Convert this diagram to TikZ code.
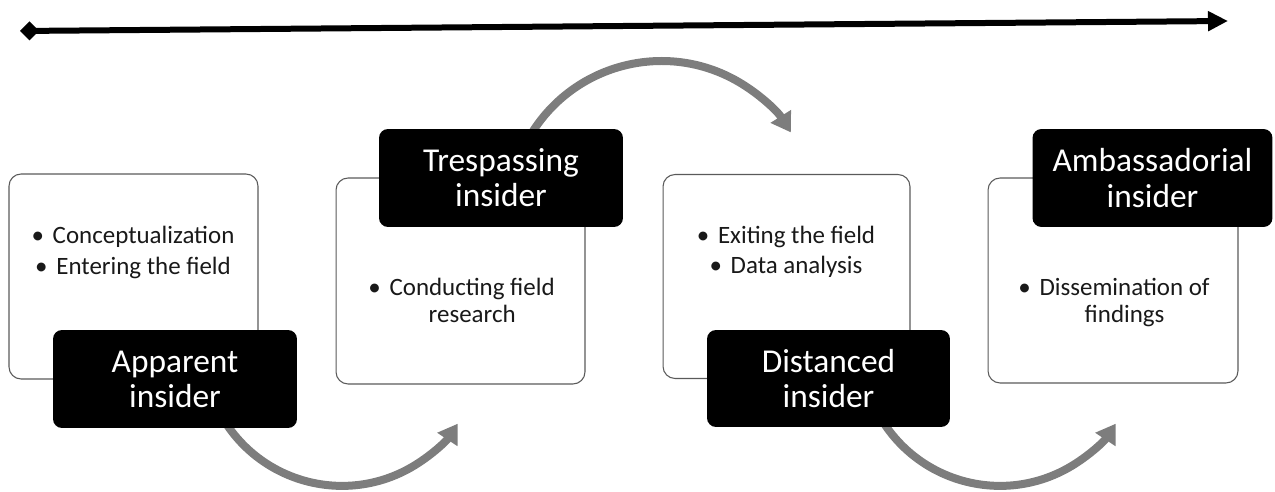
\documentclass[tikz,border=0pt]{standalone}
\usepackage{fontspec}
\setmainfont{Carlito}
\usetikzlibrary{arrows.meta}
\definecolor{flowgray}{RGB}{125,125,125}
\definecolor{boxline}{RGB}{90,90,90}
\definecolor{txt}{RGB}{25,25,25}
\newcommand{\bul}{\textbullet\hspace{5pt}}
\begin{document}
\begin{tikzpicture}[x=0.02cm,y=-0.02cm,
  wbox/.style={draw=boxline, line width=0.6pt, rounded corners=0.24cm, fill=white, inner sep=0pt},
  bbox/.style={fill=black, rounded corners=0.18cm, text=white, align=center, inner sep=0pt,
    font=\fontsize{19}{20}\selectfont},
  btext/.style={text=txt, align=center, inner sep=0pt},
  flow/.style={draw=flowgray, line width=0.16cm, -{Triangle[length=0.38cm,width=0.46cm]}},
  timeline/.style={draw=black, line width=0.12cm,
    {Diamond[length=0.38cm,width=0.38cm]}-{Triangle[length=0.4cm,width=0.38cm]}}
]
\path[use as bounding box] (0,0) rectangle (1275,492);

% timeline arrow
\coordinate (tl) at (20,31);
\coordinate (tr) at (1228,21);
\draw[timeline] (tl) -- (tr);

% arc centres
\coordinate (c1) at (342,347);
\coordinate (c2) at (661.5,213.9);
\coordinate (c3) at (1000,347);

% curved flow arrows (drawn first, boxes cover their starts)
\draw[flow] ([shift={(210:2.778cm)}]c1) arc[start angle=210, end angle=326.5, radius=2.778cm];
\draw[flow] ([shift={(150:3.058cm)}]c2) arc[start angle=150, end angle=32.2, radius=3.058cm];
\draw[flow] ([shift={(210:2.778cm)}]c3) arc[start angle=210, end angle=326.5, radius=2.778cm];

% white boxes
\node[wbox, minimum width=4.98cm, minimum height=4.1cm] (w1) at (133.5,276.5) {};
\node[wbox, minimum width=4.98cm, minimum height=4.12cm] (w2) at (460.5,281) {};
\node[wbox, minimum width=4.94cm, minimum height=4.08cm] (w3) at (786.5,276.5) {};
\node[wbox, minimum width=5.0cm, minimum height=4.1cm] (w4) at (1113,280.5) {};

% white box texts
\node[btext, font=\fontsize{14.2}{18}\selectfont] (t1) at (133,252.6)
  {\bul Conceptualization\\\bul Entering the field};
\node[btext, font=\fontsize{14.2}{15.9}\selectfont, anchor=west] (t2) at (368,303.4)
  {\begin{tabular}{@{}c@{\hspace{5pt}}c@{}}\textbullet & Conducting field\\ & research\end{tabular}};
\node[btext, font=\fontsize{14.2}{17}\selectfont] (t3) at (786,251.7)
  {\bul Exiting the field\\\bul Data analysis};
\node[btext, font=\fontsize{14.2}{15.9}\selectfont, anchor=west] (t4) at (1018,303.4)
  {\begin{tabular}{@{}c@{\hspace{5pt}}c@{}}\textbullet & Dissemination of\\ & findings\end{tabular}};

% black label boxes
\node[bbox, minimum width=4.88cm, minimum height=1.96cm] (b1) at (175,379) {Apparent\\insider};
\node[bbox, minimum width=4.88cm, minimum height=1.96cm] (b2) at (501,178) {Trespassing\\insider};
\node[bbox, minimum width=4.86cm, minimum height=1.94cm] (b3) at (828.5,378.5) {Distanced\\insider};
\node[bbox, minimum width=4.8cm, minimum height=1.96cm] (b4) at (1152.5,178) {Ambassadorial\\insider};
\end{tikzpicture}
\end{document}
